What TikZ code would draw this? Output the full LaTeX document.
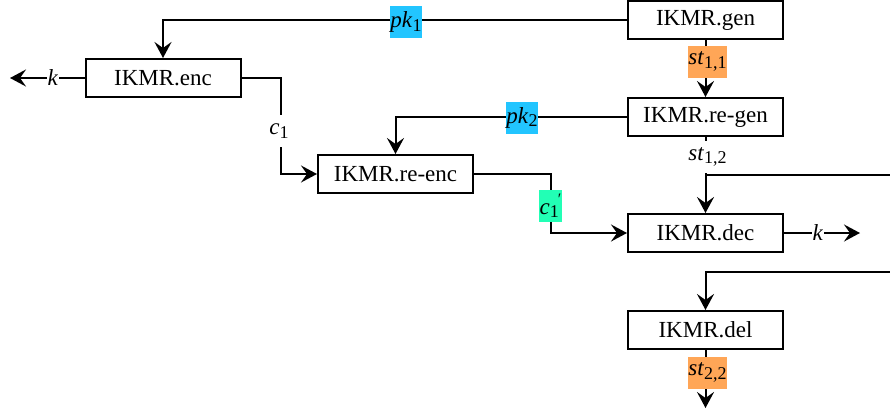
\documentclass[tikz,border=0pt]{standalone}
\usepackage{fontspec}
\setmainfont{Liberation Serif}
\usetikzlibrary{arrows.meta,positioning}
\definecolor{cyanc}{RGB}{34,197,255}
\definecolor{orangec}{RGB}{255,166,87}
\definecolor{greenc}{RGB}{34,255,181}
\newcommand{\lbl}[2]{\textit{#1}\raisebox{-0.35ex}{\fontsize{18}{18}\selectfont #2}}
\tikzset{
  proc/.style={draw, line width=2pt, minimum width=155pt, minimum height=38pt, inner sep=0pt, font=\fontsize{23}{27}\selectfont},
  conn/.style={line width=2pt},
  arr/.style={conn, -{Stealth[length=16pt,width=17pt,inset=6pt]}},
  lab/.style={inner xsep=0.5pt, inner ysep=0pt, minimum height=32pt, font=\fontsize{23}{27}\selectfont},
}
\begin{document}
\begin{tikzpicture}[x=1pt,y=-1pt]
\useasboundingbox (0,0) rectangle (890,410);
\node[proc] (gen) at (705.5,20) {IKMR.gen};
\node[proc] (enc) at (163,78) {IKMR.enc};
\node[proc] (regen) at (705.5,117) {IKMR.re-gen};
\node[proc] (reenc) at (395.5,174) {IKMR.re-enc};
\node[proc] (dec) at (705.5,233) {IKMR.dec};
\node[proc] (del) at (705.5,330) {IKMR.del};
\coordinate (kout1) at (10,78);
\coordinate (kout2) at (860,233);
\coordinate (r1) at (890,175);
\coordinate (r2) at (890,272);
\coordinate (j1) at (705.5,175);
\coordinate (stout) at (705.5,408);
% connectors
\draw[arr] (gen.west) -| (enc.north);
\draw[arr] (enc.west) -- (kout1);
\draw[arr] (enc.east) -- ++(39,0) |- (reenc.west);
\draw[arr] (gen.south) -- (regen.north);
\draw[arr] (regen.west) -| (reenc.north);
\draw[arr] (regen.south) -- (dec.north);
\draw[conn] (r1) -- (j1);
\draw[arr] (reenc.east) -- ++(77,0) |- (dec.west);
\draw[arr] (dec.east) -- (kout2);
\draw[arr] (r2) -| (del.north);
\draw[arr] (del.south) -- (stout);
% labels
\node[lab, fill=cyanc] (pk1) at (406,22) {\lbl{pk}{1}};
\node[lab, fill=white, minimum height=0pt] (k1) at (53,78) {\textit{k}};
\node[lab, fill=white] (c1) at (279,131) {\lbl{c}{1}};
\node[lab, fill=orangec] (st11) at (707.5,61.5) {\lbl{st}{1,1}};
\node[lab, fill=cyanc] (pk2) at (522,117.5) {\lbl{pk}{2}};
\node[lab, fill=white] (st12) at (707.5,157) {\lbl{st}{1,2}};
\node[lab, fill=greenc] (c1p) at (550.5,206) {\lbl{c}{1}\kern-1pt\raisebox{0.9ex}{\fontsize{16}{16}\selectfont ′}};
\node[lab, fill=white, minimum height=0pt] (k2) at (818,233) {\textit{k}};
\node[lab, fill=orangec] (st22) at (707.5,372.5) {\lbl{st}{2,2}};
\end{tikzpicture}
\end{document}
